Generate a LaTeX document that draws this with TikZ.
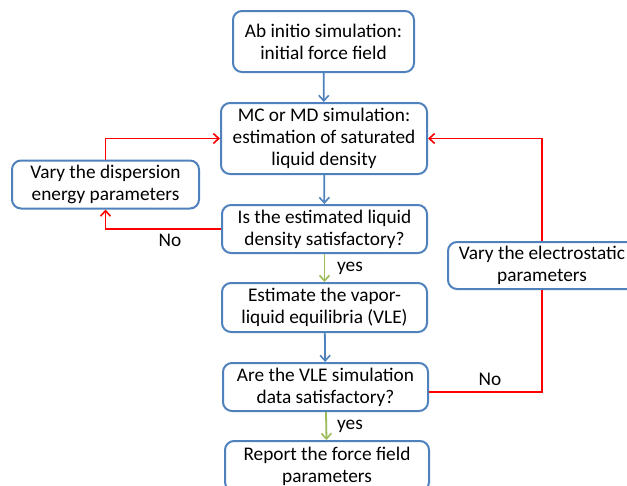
\documentclass[tikz,border=0pt]{standalone}
\usepackage{fontspec}
\setmainfont{Carlito}
\usetikzlibrary{arrows.meta}
\definecolor{boxblue}{RGB}{79,129,189}
\definecolor{yesgreen}{RGB}{155,187,89}
\definecolor{nored}{RGB}{255,0,0}
\tikzset{
  stepbox/.style={draw=boxblue, line width=2pt, rounded corners=9pt, align=center,
    inner sep=0pt, font=\fontsize{19.3}{22}\selectfont, text=black},
  blueflow/.style={draw=boxblue, line width=1.8pt, -{Straight Barb[length=5.5pt,width=10pt,line width=1.6pt]}},
  greenflow/.style={draw=yesgreen, line width=1.8pt, -{Straight Barb[length=5.5pt,width=10pt,line width=1.6pt]}},
  redflow/.style={draw=nored, line width=1.8pt, -{Straight Barb[length=5.5pt,width=10pt,line width=1.6pt]}},
  redline/.style={draw=nored, line width=1.8pt},
  lbl/.style={font=\fontsize{19.3}{22}\selectfont, inner sep=0pt}
}
\begin{document}
\begin{tikzpicture}[x=1pt,y=-1pt]
\useasboundingbox (0,0) rectangle (627,485);
\clip (0,0) rectangle (627,485);
\node[stepbox, minimum width=181pt, minimum height=61pt] (b1) at (323.5,41.5) {Ab initio simulation:\\initial force field};
\node[stepbox, minimum width=206pt, minimum height=71pt] (b2) at (324,138.5) {MC or MD simulation:\\estimation of saturated\\liquid density};
\node[stepbox, minimum width=187pt, minimum height=48pt] (b3) at (105.5,184.5) {Vary the dispersion\\energy parameters};
\node[stepbox, minimum width=205pt, minimum height=48pt] (b4) at (324.5,229) {Is the estimated liquid\\density satisfactory?};
\node[stepbox, minimum width=205pt, minimum height=49pt] (b5) at (324.5,307.5) {Estimate the vapor-\\liquid equilibria (VLE)};
\node[stepbox, minimum width=205pt, minimum height=48pt] (b6) at (325.5,387) {Are the VLE simulation\\data satisfactory?};
\node[stepbox, minimum width=204pt, minimum height=50pt] (b7) at (327,466) {Report the force field\\parameters};
\node[stepbox, minimum width=188pt, minimum height=47pt] (b8) at (542,265.5) {Vary the electrostatic\\parameters};
\draw[blueflow] (b1) -- (b2);
\draw[blueflow] (b2) -- (b4);
\draw[greenflow] (b4) -- (b5);
\draw[blueflow] (b5) -- (b6);
\draw[greenflow] (b6) -- (b7);
\draw[redflow] (b4.west) -| (b3.south);
\draw[redflow] (b3.north) |- (b2.west);
\draw[redline] ([yshift=-5pt]b6.east) -| (b8.south);
\draw[redflow] (b8.north) |- (b2.east);
\node[lbl] (no1) at (170,240) {No};
\node[lbl] (no2) at (490,379) {No};
\node[lbl] (yes1) at (350,268) {yes};
\node[lbl] (yes2) at (350,426) {yes};
\end{tikzpicture}
\end{document}
